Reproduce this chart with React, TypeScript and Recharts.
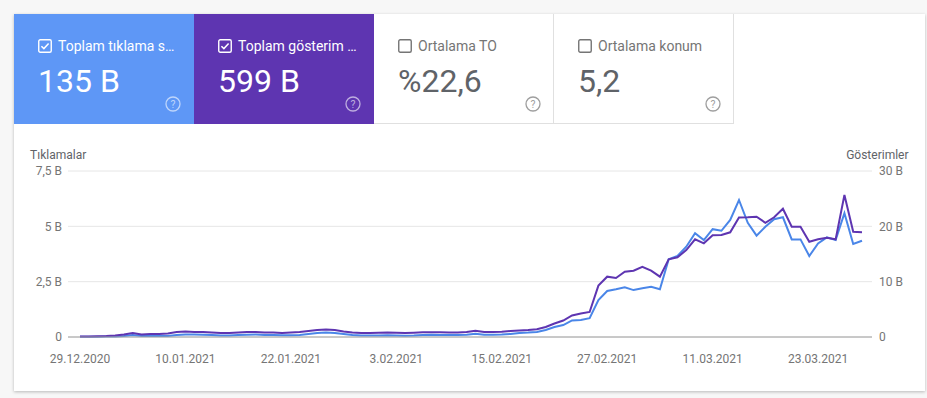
import React from 'react';
import { LineChart, Line, XAxis, YAxis, CartesianGrid } from 'recharts';

const dates = [
  '29.12.2020', '30.12.2020', '31.12.2020',
  '1.01.2021', '2.01.2021', '3.01.2021', '4.01.2021', '5.01.2021', '6.01.2021', '7.01.2021', '8.01.2021', '9.01.2021', '10.01.2021',
  '11.01.2021', '12.01.2021', '13.01.2021', '14.01.2021', '15.01.2021', '16.01.2021', '17.01.2021', '18.01.2021', '19.01.2021', '20.01.2021',
  '21.01.2021', '22.01.2021', '23.01.2021', '24.01.2021', '25.01.2021', '26.01.2021', '27.01.2021', '28.01.2021', '29.01.2021', '30.01.2021', '31.01.2021',
  '1.02.2021', '2.02.2021', '3.02.2021', '4.02.2021', '5.02.2021', '6.02.2021', '7.02.2021', '8.02.2021', '9.02.2021', '10.02.2021',
  '11.02.2021', '12.02.2021', '13.02.2021', '14.02.2021', '15.02.2021', '16.02.2021', '17.02.2021', '18.02.2021', '19.02.2021', '20.02.2021',
  '21.02.2021', '22.02.2021', '23.02.2021', '24.02.2021', '25.02.2021', '26.02.2021', '27.02.2021', '28.02.2021',
  '1.03.2021', '2.03.2021', '3.03.2021', '4.03.2021', '5.03.2021', '6.03.2021', '7.03.2021', '8.03.2021', '9.03.2021', '10.03.2021',
  '11.03.2021', '12.03.2021', '13.03.2021', '14.03.2021', '15.03.2021', '16.03.2021', '17.03.2021', '18.03.2021', '19.03.2021', '20.03.2021',
  '21.03.2021', '22.03.2021', '23.03.2021', '24.03.2021', '25.03.2021', '26.03.2021', '27.03.2021', '28.03.2021',
];

// Tıklamalar (B)
const clicks = [
  0.01, 0.01, 0.01, 0.02, 0.02, 0.04, 0.09, 0.05, 0.05, 0.05,
  0.05, 0.09, 0.11, 0.11, 0.10, 0.09, 0.07, 0.07, 0.09, 0.10,
  0.11, 0.09, 0.09, 0.08, 0.08, 0.09, 0.14, 0.18, 0.20, 0.18,
  0.14, 0.09, 0.07, 0.07, 0.07, 0.08, 0.07, 0.06, 0.07, 0.09,
  0.10, 0.09, 0.09, 0.09, 0.10, 0.15, 0.10, 0.10, 0.11, 0.14,
  0.18, 0.20, 0.23, 0.32, 0.45, 0.54, 0.75, 0.77, 0.85, 1.67,
  2.08, 2.16, 2.25, 2.12, 2.20, 2.27, 2.16, 3.51, 3.66, 4.08,
  4.69, 4.38, 4.87, 4.80, 5.29, 6.19, 5.16, 4.58, 4.98, 5.32,
  5.41, 4.41, 4.41, 3.66, 4.23, 4.50, 4.38, 5.59, 4.20, 4.35,
];

// Gösterimler (B)
const impressions = [
  0.09, 0.09, 0.13, 0.18, 0.27, 0.45, 0.72, 0.45, 0.54, 0.54,
  0.63, 0.90, 0.99, 0.90, 0.90, 0.81, 0.72, 0.72, 0.81, 0.90,
  0.90, 0.81, 0.81, 0.72, 0.81, 0.90, 1.08, 1.26, 1.36, 1.26,
  0.99, 0.81, 0.72, 0.72, 0.76, 0.81, 0.76, 0.72, 0.78, 0.87,
  0.87, 0.85, 0.83, 0.83, 0.90, 1.14, 0.90, 0.90, 0.96, 1.08,
  1.17, 1.26, 1.39, 1.81, 2.44, 2.98, 3.89, 4.25, 4.52, 9.28,
  10.90, 10.66, 11.80, 11.98, 12.70, 11.98, 10.90, 14.04, 14.40, 15.72,
  17.65, 16.93, 18.38, 18.43, 18.92, 21.60, 21.63, 21.74, 20.65, 21.63,
  23.18, 19.93, 19.93, 17.22, 17.65, 17.94, 17.65, 25.66, 19.03, 18.92,
];

const xTicks = ['29.12.2020', '10.01.2021', '22.01.2021', '3.02.2021', '15.02.2021', '27.02.2021', '11.03.2021', '23.03.2021'];
const clickTicks = [0, 2.5, 5, 7.5];
const clickTickLabels = ['0', '2,5 B', '5 B', '7,5 B'];
const imprTicks = [0, 10, 20, 30];
const imprTickLabels = ['0', '10 B', '20 B', '30 B'];

const tileLabels = ['Toplam tıklama s…', 'Toplam gösterim …', 'Ortalama TO', 'Ortalama konum'];
const tileValues = ['135 B', '599 B', '%22,6', '5,2'];
const tileChecked = [true, true, false, false];

const data = dates.map((d, i) => ({ date: d, clicks: clicks[i], impressions: impressions[i] }));

const FONT = 'Roboto, "Noto Sans", sans-serif';
const tileBg = ['#5e97f6', '#5e35b1', '#ffffff', '#ffffff'];

function CheckBox({ checked }: { checked: boolean }) {
  const c = checked ? '#ffffff' : '#757575';
  return (
    <svg width={14} height={14} style={{ position: 'absolute', left: 24, top: 25 }}>
      <rect x={0.75} y={0.75} width={12.5} height={12.5} rx={1.5} fill="none" stroke={c} strokeWidth={1.4} />
      {checked && <polyline points="3.4,7.2 5.9,9.6 10.6,4.6" fill="none" stroke={c} strokeWidth={1.5} />}
    </svg>
  );
}

function HelpIcon({ colored }: { colored: boolean }) {
  const c = colored ? 'rgba(255,255,255,0.6)' : '#9e9e9e';
  return (
    <svg width={18} height={18} style={{ position: 'absolute', left: 149.7, top: 81 }}>
      <circle cx={9} cy={9} r={7} fill="none" stroke={c} strokeWidth={1.3} />
      <text x={9} y={12.6} textAnchor="middle" fontSize={10.5} fontFamily={FONT} fill={c}>?</text>
    </svg>
  );
}

function Tile({ i }: { i: number }) {
  const colored = tileChecked[i];
  return (
    <div
      style={{
        position: 'absolute',
        left: 14 + i * 180,
        top: 14,
        width: 180,
        height: 110,
        boxSizing: 'border-box',
        background: tileBg[i],
        borderRight: colored ? 'none' : '1px solid #e0e0e0',
        borderBottom: colored ? 'none' : '1px solid #e0e0e0',
      }}
    >
      <CheckBox checked={tileChecked[i]} />
      <div
        style={{
          position: 'absolute',
          left: 44,
          top: 24,
          fontSize: 14,
          lineHeight: '16px',
          whiteSpace: 'nowrap',
          color: colored ? '#ffffff' : '#757575',
        }}
      >
        {tileLabels[i]}
      </div>
      <div
        style={{
          position: 'absolute',
          left: 24,
          top: 51,
          fontSize: 32,
          lineHeight: '32px',
          whiteSpace: 'nowrap',
          color: colored ? '#ffffff' : '#5f6368',
        }}
      >
        {tileValues[i]}
      </div>
      <HelpIcon colored={colored} />
    </div>
  );
}

export default function App() {
  return (
    <div
      style={{
        position: 'absolute',
        left: 0,
        top: 0,
        width: 927,
        height: 398,
        background: '#f7f7f7',
        fontFamily: FONT,
        overflow: 'hidden',
      }}
    >
      <div
        style={{
          position: 'absolute',
          left: 14,
          top: 14,
          width: 911,
          height: 377,
          background: '#ffffff',
          boxShadow: '0 1px 3px rgba(0,0,0,0.25)',
        }}
      />
      {[0, 1, 2, 3].map((i) => (
        <Tile key={i} i={i} />
      ))}
      <div style={{ position: 'absolute', left: 30, top: 148, fontSize: 12, lineHeight: '14px', color: '#5f6368' }}>
        Tıklamalar
      </div>
      <div style={{ position: 'absolute', right: 927 - 908.5, top: 148, fontSize: 12, lineHeight: '14px', color: '#5f6368' }}>
        Gösterimler
      </div>
      <div style={{ position: 'absolute', left: 0, top: 130 }}>
        <LineChart width={927} height={268} data={data} margin={{ top: 41, right: 10, bottom: 31, left: 0 }}>
          <CartesianGrid yAxisId="clicks" vertical={false} stroke="#e6e6e6" />
          <XAxis
            dataKey="date"
            ticks={xTicks}
            interval={0}
            height={30}
            padding={{ left: 12, right: 10 }}
            tickLine={false}
            tickSize={8}
            tickMargin={9}
            axisLine={{ stroke: '#9e9e9e' }}
            tick={{ fontSize: 12, fill: '#757575', fontFamily: FONT }}
          />
          <YAxis
            yAxisId="clicks"
            orientation="left"
            width={68}
            domain={[0, 7.5]}
            ticks={clickTicks}
            tickFormatter={(v: number) => clickTickLabels[clickTicks.indexOf(v)] ?? String(v)}
            axisLine={false}
            tickLine={false}
            tickSize={4}
            tickMargin={2}
            tick={{ fontSize: 12, fill: '#757575', fontFamily: FONT }}
          />
          <YAxis
            yAxisId="impr"
            orientation="right"
            width={45}
            domain={[0, 30]}
            ticks={imprTicks}
            tickFormatter={(v: number) => imprTickLabels[imprTicks.indexOf(v)] ?? String(v)}
            axisLine={false}
            tickLine={false}
            tickSize={5}
            tickMargin={2}
            tick={{ fontSize: 12, fill: '#757575', fontFamily: FONT, textAnchor: 'start' }}
          />
          <Line
            yAxisId="clicks"
            dataKey="clicks"
            type="linear"
            stroke="#4a86e8"
            strokeWidth={2}
            dot={false}
            isAnimationActive={false}
          />
          <Line
            yAxisId="impr"
            dataKey="impressions"
            type="linear"
            stroke="#5e35b1"
            strokeWidth={2}
            dot={false}
            isAnimationActive={false}
          />
        </LineChart>
      </div>
    </div>
  );
}
